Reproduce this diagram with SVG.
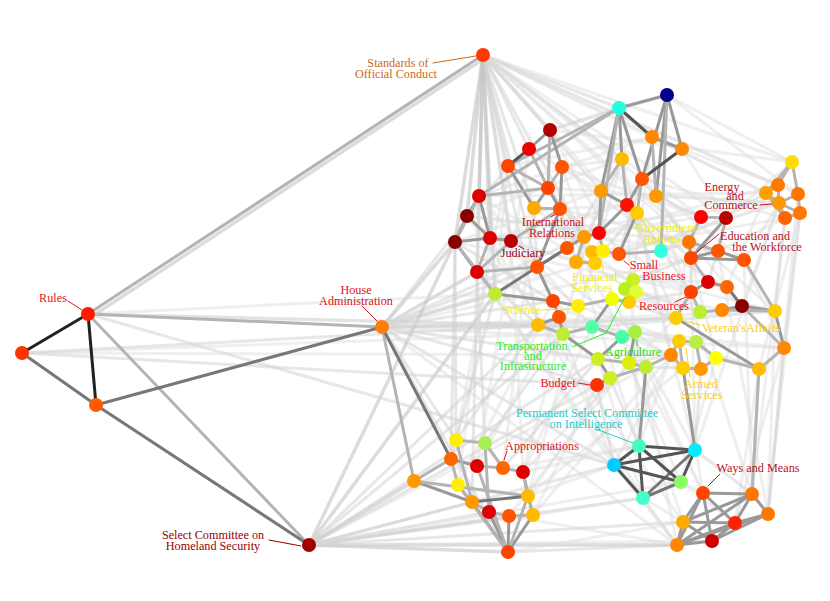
<svg xmlns="http://www.w3.org/2000/svg" width="830" height="601" viewBox="0 0 830 601">
<style>
line{stroke-linecap:round}
.k{stroke:#222;stroke-width:3}
.d1{stroke:#555;stroke-width:3}
.d2{stroke:#777;stroke-width:3}
.d3{stroke:#999;stroke-width:3}
.d4{stroke:#b4b4b4;stroke-width:3}
.l1{stroke:#c4c4c4;stroke-width:3.5;stroke-opacity:.6}
.l2{stroke:#d0d0d0;stroke-width:3;stroke-opacity:.5}
.l3{stroke:#dcdcdc;stroke-width:3;stroke-opacity:.45}
.t{font-family:"Liberation Serif","Times New Roman",serif;font-size:12.2px;text-anchor:middle}
.ld{stroke-width:1;fill:none}
circle{stroke:none}
</style>
<rect width="830" height="601" fill="#fff"/>
<g id="connectors">
<line class="l1" x1="483" y1="55" x2="479" y2="196"/>
<line class="l1" x1="483" y1="55" x2="467" y2="216"/>
<line class="l1" x1="483" y1="55" x2="455" y2="242"/>
<line class="l1" x1="483" y1="55" x2="490" y2="238"/>
<line class="l1" x1="483" y1="55" x2="477" y2="272"/>
<line class="l1" x1="483" y1="55" x2="495" y2="294"/>
<line class="l1" x1="483" y1="55" x2="511" y2="241"/>
<line class="l2" x1="483" y1="55" x2="537" y2="267"/>
<line class="l2" x1="483" y1="55" x2="538" y2="325"/>
<line class="l2" x1="483" y1="55" x2="550" y2="130"/>
<line class="l2" x1="483" y1="55" x2="529" y2="149"/>
<line class="l2" x1="483" y1="55" x2="508" y2="166"/>
<line class="l2" x1="483" y1="55" x2="534" y2="208"/>
<line class="l2" x1="483" y1="55" x2="619" y2="108"/>
<line class="l2" x1="483" y1="55" x2="622" y2="159"/>
<line class="l2" x1="483" y1="55" x2="601" y2="191"/>
<line class="l2" x1="483" y1="55" x2="584" y2="237"/>
<line class="l3" x1="483" y1="55" x2="792" y2="162"/>
<line class="l3" x1="483" y1="55" x2="766" y2="193"/>
<line class="l3" x1="483" y1="55" x2="778" y2="185"/>
<line class="l3" x1="483" y1="55" x2="701" y2="217"/>
<line class="l3" x1="483" y1="55" x2="689" y2="242"/>
<line class="l3" x1="483" y1="55" x2="661" y2="251"/>
<line class="l3" x1="483" y1="55" x2="775" y2="311"/>
<line class="l3" x1="483" y1="55" x2="682" y2="149"/>
<line class="l3" x1="483" y1="55" x2="726" y2="218"/>
<line class="l3" x1="483" y1="55" x2="798" y2="194"/>
<line class="l3" x1="483" y1="55" x2="744" y2="260"/>
<line class="l1" x1="382" y1="327" x2="455" y2="242"/>
<line class="l1" x1="382" y1="327" x2="477" y2="272"/>
<line class="l1" x1="382" y1="327" x2="495" y2="294"/>
<line class="l2" x1="382" y1="327" x2="537" y2="267"/>
<line class="l2" x1="382" y1="327" x2="553" y2="301"/>
<line class="l2" x1="382" y1="327" x2="538" y2="325"/>
<line class="l2" x1="382" y1="327" x2="592" y2="327"/>
<line class="l2" x1="382" y1="327" x2="676" y2="318"/>
<line class="l3" x1="382" y1="327" x2="775" y2="311"/>
<line class="l3" x1="382" y1="327" x2="691" y2="258"/>
<line class="l2" x1="382" y1="327" x2="597" y2="385"/>
<line class="l2" x1="382" y1="327" x2="614" y2="465"/>
<line class="l3" x1="382" y1="327" x2="677" y2="545"/>
<line class="l2" x1="382" y1="327" x2="456" y2="440"/>
<line class="l2" x1="382" y1="327" x2="508" y2="552"/>
<line class="l2" x1="382" y1="327" x2="584" y2="237"/>
<line class="l2" x1="382" y1="327" x2="508" y2="166"/>
<line class="l3" x1="382" y1="327" x2="779" y2="203"/>
<line class="l3" x1="382" y1="327" x2="784" y2="348"/>
<line class="l2" x1="382" y1="327" x2="598" y2="359"/>
<line class="l1" x1="309" y1="545" x2="414" y2="481"/>
<line class="l1" x1="309" y1="545" x2="508" y2="552"/>
<line class="l1" x1="309" y1="545" x2="677" y2="545"/>
<line class="l2" x1="309" y1="545" x2="472" y2="502"/>
<line class="l2" x1="309" y1="545" x2="489" y2="512"/>
<line class="l2" x1="309" y1="545" x2="614" y2="465"/>
<line class="l2" x1="309" y1="545" x2="643" y2="498"/>
<line class="l1" x1="309" y1="545" x2="495" y2="294"/>
<line class="l2" x1="309" y1="545" x2="563" y2="334"/>
<line class="l2" x1="309" y1="545" x2="683" y2="522"/>
<line class="l2" x1="309" y1="545" x2="538" y2="325"/>
<line class="l1" x1="309" y1="545" x2="455" y2="242"/>
<line class="l3" x1="309" y1="545" x2="671" y2="355"/>
<line class="l2" x1="309" y1="545" x2="598" y2="359"/>
<line class="l2" x1="309" y1="545" x2="509" y2="516"/>
<line class="l2" x1="309" y1="545" x2="533" y2="515"/>
<line class="l3" x1="309" y1="545" x2="712" y2="541"/>
<line class="l3" x1="309" y1="545" x2="681" y2="482"/>
<line class="l2" x1="309" y1="545" x2="597" y2="385"/>
<line class="l2" x1="88" y1="314" x2="614" y2="465"/>
<line class="l2" x1="88" y1="314" x2="538" y2="325"/>
<line class="l3" x1="88" y1="314" x2="592" y2="327"/>
<line class="l2" x1="22" y1="353" x2="597" y2="385"/>
<line class="l2" x1="22" y1="353" x2="676" y2="318"/>
<line class="l3" x1="22" y1="353" x2="563" y2="334"/>
<line class="l3" x1="22" y1="353" x2="671" y2="355"/>
<line class="l3" x1="88" y1="314" x2="495" y2="294"/>
<line class="l2" x1="479" y1="196" x2="619" y2="108"/>
<line class="l3" x1="467" y1="216" x2="622" y2="159"/>
<line class="l3" x1="455" y1="242" x2="601" y2="191"/>
<line class="l3" x1="490" y1="238" x2="627" y2="205"/>
<line class="l3" x1="479" y1="196" x2="652" y2="137"/>
<line class="l3" x1="467" y1="216" x2="599" y2="233"/>
<line class="l2" x1="455" y1="242" x2="553" y2="301"/>
<line class="l2" x1="490" y1="238" x2="584" y2="237"/>
<line class="l3" x1="511" y1="241" x2="576" y2="262"/>
<line class="l2" x1="477" y1="272" x2="538" y2="325"/>
<line class="l3" x1="467" y1="216" x2="578" y2="306"/>
<line class="l3" x1="479" y1="196" x2="592" y2="327"/>
<line class="l3" x1="479" y1="196" x2="676" y2="318"/>
<line class="l3" x1="455" y1="242" x2="691" y2="292"/>
<line class="l3" x1="490" y1="238" x2="775" y2="311"/>
<line class="l3" x1="477" y1="272" x2="671" y2="355"/>
<line class="l3" x1="511" y1="241" x2="683" y2="368"/>
<line class="l2" x1="455" y1="242" x2="456" y2="440"/>
<line class="l2" x1="455" y1="242" x2="451" y2="459"/>
<line class="l2" x1="477" y1="272" x2="485" y2="443"/>
<line class="l3" x1="490" y1="238" x2="458" y2="485"/>
<line class="l2" x1="477" y1="272" x2="472" y2="502"/>
<line class="l3" x1="511" y1="241" x2="523" y2="472"/>
<line class="l3" x1="477" y1="272" x2="614" y2="465"/>
<line class="l3" x1="455" y1="242" x2="677" y2="545"/>
<line class="l3" x1="490" y1="238" x2="643" y2="498"/>
<line class="l3" x1="467" y1="216" x2="683" y2="522"/>
<line class="l3" x1="479" y1="196" x2="766" y2="193"/>
<line class="l3" x1="467" y1="216" x2="689" y2="242"/>
<line class="l3" x1="490" y1="238" x2="779" y2="203"/>
<line class="l2" x1="550" y1="130" x2="619" y2="108"/>
<line class="l3" x1="562" y1="167" x2="622" y2="159"/>
<line class="l3" x1="529" y1="149" x2="601" y2="191"/>
<line class="l3" x1="560" y1="209" x2="627" y2="205"/>
<line class="l3" x1="550" y1="130" x2="667" y2="95"/>
<line class="l3" x1="508" y1="166" x2="652" y2="137"/>
<line class="l2" x1="548" y1="188" x2="584" y2="237"/>
<line class="l2" x1="534" y1="208" x2="537" y2="267"/>
<line class="l2" x1="560" y1="209" x2="567" y2="248"/>
<line class="l3" x1="562" y1="167" x2="592" y2="252"/>
<line class="l3" x1="508" y1="166" x2="495" y2="294"/>
<line class="l3" x1="550" y1="130" x2="619" y2="254"/>
<line class="l3" x1="550" y1="130" x2="792" y2="162"/>
<line class="l3" x1="562" y1="167" x2="701" y2="217"/>
<line class="l3" x1="560" y1="209" x2="689" y2="242"/>
<line class="l3" x1="548" y1="188" x2="779" y2="203"/>
<line class="l3" x1="534" y1="208" x2="676" y2="318"/>
<line class="l3" x1="560" y1="209" x2="691" y2="292"/>
<line class="l3" x1="562" y1="167" x2="742" y2="306"/>
<line class="l3" x1="534" y1="208" x2="503" y2="468"/>
<line class="l3" x1="508" y1="166" x2="456" y2="440"/>
<line class="l3" x1="560" y1="209" x2="639" y2="446"/>
<line class="l3" x1="548" y1="188" x2="703" y2="493"/>
<line class="l3" x1="529" y1="149" x2="477" y2="466"/>
<line class="l3" x1="667" y1="95" x2="792" y2="162"/>
<line class="l3" x1="682" y1="149" x2="778" y2="185"/>
<line class="l3" x1="652" y1="137" x2="766" y2="193"/>
<line class="l3" x1="656" y1="196" x2="779" y2="203"/>
<line class="l3" x1="642" y1="179" x2="785" y2="218"/>
<line class="l3" x1="667" y1="95" x2="798" y2="194"/>
<line class="l2" x1="656" y1="196" x2="701" y2="217"/>
<line class="l2" x1="642" y1="179" x2="689" y2="242"/>
<line class="l2" x1="637" y1="213" x2="691" y2="258"/>
<line class="l3" x1="682" y1="149" x2="726" y2="218"/>
<line class="l2" x1="637" y1="213" x2="691" y2="292"/>
<line class="l3" x1="627" y1="205" x2="676" y2="318"/>
<line class="l3" x1="656" y1="196" x2="742" y2="306"/>
<line class="l3" x1="622" y1="159" x2="671" y2="355"/>
<line class="l2" x1="622" y1="159" x2="576" y2="262"/>
<line class="l2" x1="601" y1="191" x2="567" y2="248"/>
<line class="l2" x1="637" y1="213" x2="603" y2="251"/>
<line class="l2" x1="642" y1="179" x2="619" y2="254"/>
<line class="l3" x1="652" y1="137" x2="633" y2="280"/>
<line class="l3" x1="601" y1="191" x2="523" y2="472"/>
<line class="l3" x1="627" y1="205" x2="639" y2="446"/>
<line class="l3" x1="656" y1="196" x2="752" y2="494"/>
<line class="l3" x1="622" y1="159" x2="528" y2="496"/>
<line class="l3" x1="637" y1="213" x2="695" y2="450"/>
<line class="l3" x1="661" y1="251" x2="766" y2="193"/>
<line class="l3" x1="619" y1="254" x2="779" y2="203"/>
<line class="l3" x1="603" y1="251" x2="785" y2="218"/>
<line class="l3" x1="599" y1="233" x2="778" y2="185"/>
<line class="l2" x1="661" y1="251" x2="689" y2="242"/>
<line class="l2" x1="633" y1="280" x2="691" y2="258"/>
<line class="l3" x1="599" y1="233" x2="701" y2="217"/>
<line class="l3" x1="584" y1="237" x2="718" y2="251"/>
<line class="l2" x1="629" y1="302" x2="691" y2="292"/>
<line class="l2" x1="636" y1="292" x2="700" y2="312"/>
<line class="l2" x1="612" y1="299" x2="676" y2="318"/>
<line class="l2" x1="635" y1="332" x2="679" y2="341"/>
<line class="l2" x1="629" y1="363" x2="671" y2="355"/>
<line class="l2" x1="646" y1="367" x2="683" y2="368"/>
<line class="l3" x1="633" y1="280" x2="708" y2="282"/>
<line class="l3" x1="661" y1="251" x2="727" y2="287"/>
<line class="l3" x1="622" y1="337" x2="696" y2="342"/>
<line class="l3" x1="625" y1="289" x2="722" y2="310"/>
<line class="l3" x1="578" y1="306" x2="759" y2="369"/>
<line class="l2" x1="592" y1="327" x2="775" y2="311"/>
<line class="l3" x1="592" y1="327" x2="784" y2="348"/>
<line class="l2" x1="538" y1="325" x2="456" y2="440"/>
<line class="l2" x1="563" y1="334" x2="485" y2="443"/>
<line class="l2" x1="598" y1="359" x2="503" y2="468"/>
<line class="l3" x1="610" y1="378" x2="528" y2="496"/>
<line class="l3" x1="597" y1="385" x2="533" y2="515"/>
<line class="l2" x1="495" y1="294" x2="451" y2="459"/>
<line class="l3" x1="559" y1="317" x2="477" y2="466"/>
<line class="l3" x1="553" y1="301" x2="458" y2="485"/>
<line class="l3" x1="592" y1="327" x2="523" y2="472"/>
<line class="l3" x1="629" y1="363" x2="509" y2="516"/>
<line class="l2" x1="610" y1="378" x2="639" y2="446"/>
<line class="l2" x1="597" y1="385" x2="614" y2="465"/>
<line class="l3" x1="629" y1="363" x2="681" y2="482"/>
<line class="l3" x1="598" y1="359" x2="643" y2="498"/>
<line class="l3" x1="646" y1="367" x2="703" y2="493"/>
<line class="l3" x1="622" y1="337" x2="683" y2="522"/>
<line class="l3" x1="635" y1="332" x2="677" y2="545"/>
<line class="l3" x1="563" y1="334" x2="614" y2="465"/>
<line class="l3" x1="612" y1="299" x2="695" y2="450"/>
<line class="l3" x1="766" y1="193" x2="726" y2="218"/>
<line class="l3" x1="779" y1="203" x2="744" y2="260"/>
<line class="l3" x1="785" y1="218" x2="718" y2="251"/>
<line class="l3" x1="792" y1="162" x2="726" y2="218"/>
<line class="l2" x1="785" y1="218" x2="775" y2="311"/>
<line class="l2" x1="800" y1="213" x2="784" y2="348"/>
<line class="l3" x1="779" y1="203" x2="742" y2="306"/>
<line class="l3" x1="766" y1="193" x2="727" y2="287"/>
<line class="l3" x1="800" y1="213" x2="759" y2="369"/>
<line class="l3" x1="800" y1="213" x2="768" y2="514"/>
<line class="l3" x1="785" y1="218" x2="752" y2="494"/>
<line class="l3" x1="798" y1="194" x2="768" y2="514"/>
<line class="l3" x1="779" y1="203" x2="695" y2="450"/>
<line class="l2" x1="691" y1="258" x2="691" y2="292"/>
<line class="l2" x1="718" y1="251" x2="708" y2="282"/>
<line class="l2" x1="744" y1="260" x2="775" y2="311"/>
<line class="l3" x1="689" y1="242" x2="676" y2="318"/>
<line class="l3" x1="744" y1="260" x2="784" y2="348"/>
<line class="l3" x1="691" y1="258" x2="716" y2="358"/>
<line class="l3" x1="744" y1="260" x2="752" y2="494"/>
<line class="l3" x1="718" y1="251" x2="768" y2="514"/>
<line class="l3" x1="691" y1="258" x2="695" y2="450"/>
<line class="l2" x1="784" y1="348" x2="768" y2="514"/>
<line class="l2" x1="759" y1="369" x2="752" y2="494"/>
<line class="l3" x1="716" y1="358" x2="681" y2="482"/>
<line class="l2" x1="701" y1="369" x2="695" y2="450"/>
<line class="l3" x1="683" y1="368" x2="703" y2="493"/>
<line class="l3" x1="671" y1="355" x2="639" y2="446"/>
<line class="l3" x1="679" y1="341" x2="614" y2="465"/>
<line class="l3" x1="784" y1="348" x2="735" y2="523"/>
<line class="l3" x1="759" y1="369" x2="735" y2="523"/>
<line class="l3" x1="775" y1="311" x2="768" y2="514"/>
<line class="l3" x1="671" y1="355" x2="533" y2="515"/>
<line class="l3" x1="683" y1="368" x2="528" y2="496"/>
<line class="l3" x1="676" y1="318" x2="523" y2="472"/>
<line class="l2" x1="508" y1="552" x2="677" y2="545"/>
<line class="l3" x1="528" y1="496" x2="614" y2="465"/>
<line class="l3" x1="523" y1="472" x2="639" y2="446"/>
<line class="l3" x1="533" y1="515" x2="643" y2="498"/>
<line class="l3" x1="508" y1="552" x2="683" y2="522"/>
<line class="l3" x1="509" y1="516" x2="677" y2="545"/>
<line class="l3" x1="503" y1="468" x2="639" y2="446"/>
<line class="l3" x1="681" y1="482" x2="703" y2="493"/>
<line class="l3" x1="643" y1="498" x2="683" y2="522"/>
<line class="l2" x1="695" y1="450" x2="752" y2="494"/>
<line class="l3" x1="681" y1="482" x2="735" y2="523"/>
<line class="l3" x1="643" y1="498" x2="677" y2="545"/>
<line class="l3" x1="614" y1="465" x2="677" y2="545"/>
<line class="d4" x1="88" y1="314" x2="382" y2="327"/>
<line class="d4" x1="88" y1="314" x2="309" y2="545"/>
<line class="d4" x1="88" y1="314" x2="483" y2="55"/>
<line class="l1" x1="91" y1="317" x2="485" y2="58"/>
<line class="d4" x1="382" y1="327" x2="414" y2="481"/>
<line class="d2" x1="382" y1="327" x2="451" y2="459"/>
<line class="d2" x1="22" y1="353" x2="96" y2="405"/>
<line class="d2" x1="96" y1="405" x2="382" y2="327"/>
<line class="d2" x1="96" y1="405" x2="309" y2="545"/>
<line class="k" x1="88" y1="314" x2="22" y2="353"/>
<line class="k" x1="88" y1="314" x2="96" y2="405"/>
<line class="d3" x1="414" y1="481" x2="472" y2="502"/>
<line class="d3" x1="451" y1="459" x2="477" y2="466"/>
<line class="d4" x1="451" y1="459" x2="458" y2="485"/>
<line class="d4" x1="456" y1="440" x2="485" y2="443"/>
<line class="d4" x1="477" y1="466" x2="503" y2="468"/>
<line class="d4" x1="503" y1="468" x2="523" y2="472"/>
<line class="d4" x1="485" y1="443" x2="503" y2="468"/>
<line class="d3" x1="523" y1="472" x2="528" y2="496"/>
<line class="d3" x1="528" y1="496" x2="533" y2="515"/>
<line class="d4" x1="458" y1="485" x2="472" y2="502"/>
<line class="d4" x1="472" y1="502" x2="489" y2="512"/>
<line class="d4" x1="489" y1="512" x2="509" y2="516"/>
<line class="d4" x1="509" y1="516" x2="533" y2="515"/>
<line class="d3" x1="508" y1="552" x2="472" y2="502"/>
<line class="d3" x1="508" y1="552" x2="489" y2="512"/>
<line class="d3" x1="508" y1="552" x2="509" y2="516"/>
<line class="d3" x1="508" y1="552" x2="533" y2="515"/>
<line class="d4" x1="508" y1="552" x2="528" y2="496"/>
<line class="d4" x1="508" y1="552" x2="477" y2="466"/>
<line class="d4" x1="508" y1="552" x2="458" y2="485"/>
<line class="d4" x1="414" y1="481" x2="451" y2="459"/>
<line class="d4" x1="414" y1="481" x2="528" y2="496"/>
<line class="d4" x1="485" y1="443" x2="489" y2="512"/>
<line class="d4" x1="456" y1="440" x2="472" y2="502"/>
<line class="d4" x1="523" y1="472" x2="533" y2="515"/>
<line class="d2" x1="472" y1="502" x2="528" y2="496"/>
<line class="d3" x1="619" y1="108" x2="667" y2="95"/>
<line class="d3" x1="667" y1="95" x2="682" y2="149"/>
<line class="d3" x1="652" y1="137" x2="682" y2="149"/>
<line class="d3" x1="667" y1="95" x2="642" y2="179"/>
<line class="d3" x1="667" y1="95" x2="656" y2="196"/>
<line class="d3" x1="619" y1="108" x2="622" y2="159"/>
<line class="d3" x1="619" y1="108" x2="601" y2="191"/>
<line class="d3" x1="619" y1="108" x2="642" y2="179"/>
<line class="d4" x1="622" y1="159" x2="601" y2="191"/>
<line class="d4" x1="652" y1="137" x2="656" y2="196"/>
<line class="d3" x1="642" y1="179" x2="627" y2="205"/>
<line class="d4" x1="622" y1="159" x2="627" y2="205"/>
<line class="d3" x1="601" y1="191" x2="627" y2="205"/>
<line class="d4" x1="642" y1="179" x2="637" y2="213"/>
<line class="d4" x1="619" y1="108" x2="599" y2="233"/>
<line class="d4" x1="667" y1="95" x2="661" y2="251"/>
<line class="d4" x1="619" y1="108" x2="508" y2="166"/>
<line class="d4" x1="619" y1="108" x2="479" y2="196"/>
<line class="d1" x1="619" y1="108" x2="652" y2="137"/>
<line class="d1" x1="682" y1="149" x2="642" y2="179"/>
<line class="d3" x1="550" y1="130" x2="529" y2="149"/>
<line class="d3" x1="550" y1="130" x2="562" y2="167"/>
<line class="d3" x1="508" y1="166" x2="534" y2="208"/>
<line class="d4" x1="562" y1="167" x2="548" y2="188"/>
<line class="d3" x1="562" y1="167" x2="560" y2="209"/>
<line class="d3" x1="548" y1="188" x2="534" y2="208"/>
<line class="d3" x1="548" y1="188" x2="560" y2="209"/>
<line class="d4" x1="534" y1="208" x2="560" y2="209"/>
<line class="d4" x1="529" y1="149" x2="548" y2="188"/>
<line class="d4" x1="508" y1="166" x2="548" y2="188"/>
<line class="d4" x1="550" y1="130" x2="548" y2="188"/>
<line class="d1" x1="529" y1="149" x2="508" y2="166"/>
<line class="d3" x1="479" y1="196" x2="467" y2="216"/>
<line class="d3" x1="479" y1="196" x2="490" y2="238"/>
<line class="d3" x1="467" y1="216" x2="455" y2="242"/>
<line class="d3" x1="467" y1="216" x2="490" y2="238"/>
<line class="d3" x1="455" y1="242" x2="490" y2="238"/>
<line class="d3" x1="455" y1="242" x2="477" y2="272"/>
<line class="d3" x1="490" y1="238" x2="511" y2="241"/>
<line class="d4" x1="490" y1="238" x2="477" y2="272"/>
<line class="d4" x1="511" y1="241" x2="477" y2="272"/>
<line class="d4" x1="479" y1="196" x2="455" y2="242"/>
<line class="d4" x1="479" y1="196" x2="548" y2="188"/>
<line class="d4" x1="511" y1="241" x2="560" y2="209"/>
<line class="d4" x1="477" y1="272" x2="537" y2="267"/>
<line class="d4" x1="455" y1="242" x2="495" y2="294"/>
<line class="d3" x1="537" y1="267" x2="567" y2="248"/>
<line class="d3" x1="537" y1="267" x2="560" y2="209"/>
<line class="d3" x1="567" y1="248" x2="584" y2="237"/>
<line class="d3" x1="584" y1="237" x2="599" y2="233"/>
<line class="d3" x1="599" y1="233" x2="601" y2="191"/>
<line class="d3" x1="599" y1="233" x2="627" y2="205"/>
<line class="d4" x1="584" y1="237" x2="576" y2="262"/>
<line class="d4" x1="592" y1="252" x2="603" y2="251"/>
<line class="d4" x1="576" y1="262" x2="595" y2="263"/>
<line class="d4" x1="619" y1="254" x2="603" y2="251"/>
<line class="d3" x1="619" y1="254" x2="637" y2="213"/>
<line class="d4" x1="619" y1="254" x2="661" y2="251"/>
<line class="d3" x1="553" y1="301" x2="559" y2="317"/>
<line class="d3" x1="559" y1="317" x2="538" y2="325"/>
<line class="d3" x1="553" y1="301" x2="578" y2="306"/>
<line class="d3" x1="559" y1="317" x2="563" y2="334"/>
<line class="d4" x1="538" y1="325" x2="563" y2="334"/>
<line class="d4" x1="563" y1="334" x2="592" y2="327"/>
<line class="d3" x1="592" y1="327" x2="612" y2="299"/>
<line class="d4" x1="612" y1="299" x2="629" y2="302"/>
<line class="d4" x1="633" y1="280" x2="625" y2="289"/>
<line class="d4" x1="625" y1="289" x2="636" y2="292"/>
<line class="d4" x1="636" y1="292" x2="629" y2="302"/>
<line class="d4" x1="592" y1="327" x2="622" y2="337"/>
<line class="d4" x1="622" y1="337" x2="635" y2="332"/>
<line class="d3" x1="598" y1="359" x2="610" y2="378"/>
<line class="d3" x1="610" y1="378" x2="597" y2="385"/>
<line class="d4" x1="629" y1="363" x2="646" y2="367"/>
<line class="d3" x1="635" y1="332" x2="629" y2="363"/>
<line class="d3" x1="622" y1="337" x2="598" y2="359"/>
<line class="d4" x1="578" y1="306" x2="612" y2="299"/>
<line class="d3" x1="553" y1="301" x2="537" y2="267"/>
<line class="d3" x1="495" y1="294" x2="553" y2="301"/>
<line class="d3" x1="563" y1="334" x2="598" y2="359"/>
<line class="d4" x1="598" y1="359" x2="629" y2="363"/>
<line class="d4" x1="646" y1="367" x2="610" y2="378"/>
<line class="d4" x1="603" y1="251" x2="599" y2="233"/>
<line class="d2" x1="495" y1="294" x2="567" y2="248"/>
<line class="d4" x1="701" y1="217" x2="726" y2="218"/>
<line class="d3" x1="689" y1="242" x2="691" y2="258"/>
<line class="d3" x1="691" y1="258" x2="718" y2="251"/>
<line class="d3" x1="718" y1="251" x2="744" y2="260"/>
<line class="d3" x1="691" y1="258" x2="744" y2="260"/>
<line class="d4" x1="689" y1="242" x2="718" y2="251"/>
<line class="d4" x1="701" y1="217" x2="689" y2="242"/>
<line class="d4" x1="726" y1="218" x2="718" y2="251"/>
<line class="d3" x1="726" y1="218" x2="691" y2="258"/>
<line class="d4" x1="792" y1="162" x2="778" y2="185"/>
<line class="d4" x1="792" y1="162" x2="798" y2="194"/>
<line class="d4" x1="792" y1="162" x2="766" y2="193"/>
<line class="d4" x1="778" y1="185" x2="766" y2="193"/>
<line class="d4" x1="778" y1="185" x2="779" y2="203"/>
<line class="d4" x1="766" y1="193" x2="779" y2="203"/>
<line class="d4" x1="798" y1="194" x2="800" y2="213"/>
<line class="d4" x1="779" y1="203" x2="785" y2="218"/>
<line class="d4" x1="785" y1="218" x2="800" y2="213"/>
<line class="d4" x1="798" y1="194" x2="779" y2="203"/>
<line class="d4" x1="779" y1="203" x2="800" y2="213"/>
<line class="d4" x1="766" y1="193" x2="785" y2="218"/>
<line class="d3" x1="708" y1="282" x2="727" y2="287"/>
<line class="d3" x1="708" y1="282" x2="691" y2="292"/>
<line class="d4" x1="691" y1="292" x2="700" y2="312"/>
<line class="d4" x1="700" y1="312" x2="722" y2="310"/>
<line class="d3" x1="722" y1="310" x2="742" y2="306"/>
<line class="d3" x1="742" y1="306" x2="775" y2="311"/>
<line class="d4" x1="691" y1="292" x2="676" y2="318"/>
<line class="d3" x1="676" y1="318" x2="759" y2="369"/>
<line class="d4" x1="679" y1="341" x2="696" y2="342"/>
<line class="d4" x1="679" y1="341" x2="683" y2="368"/>
<line class="d4" x1="696" y1="342" x2="716" y2="358"/>
<line class="d4" x1="671" y1="355" x2="683" y2="368"/>
<line class="d4" x1="683" y1="368" x2="701" y2="369"/>
<line class="d4" x1="716" y1="358" x2="701" y2="369"/>
<line class="d4" x1="784" y1="348" x2="759" y2="369"/>
<line class="d3" x1="775" y1="311" x2="784" y2="348"/>
<line class="d4" x1="742" y1="306" x2="784" y2="348"/>
<line class="d4" x1="775" y1="311" x2="744" y2="260"/>
<line class="d4" x1="716" y1="358" x2="759" y2="369"/>
<line class="d4" x1="696" y1="342" x2="701" y2="369"/>
<line class="d4" x1="708" y1="282" x2="691" y2="258"/>
<line class="d4" x1="722" y1="310" x2="775" y2="311"/>
<line class="d4" x1="679" y1="341" x2="671" y2="355"/>
<line class="d4" x1="646" y1="367" x2="671" y2="355"/>
<line class="d3" x1="646" y1="367" x2="639" y2="446"/>
<line class="d3" x1="683" y1="368" x2="695" y2="450"/>
<line class="d4" x1="759" y1="369" x2="752" y2="494"/>
<line class="d2" x1="727" y1="287" x2="742" y2="306"/>
<line class="d3" x1="703" y1="493" x2="752" y2="494"/>
<line class="d3" x1="703" y1="493" x2="683" y2="522"/>
<line class="d3" x1="703" y1="493" x2="735" y2="523"/>
<line class="d3" x1="703" y1="493" x2="712" y2="541"/>
<line class="d3" x1="703" y1="493" x2="677" y2="545"/>
<line class="d3" x1="752" y1="494" x2="768" y2="514"/>
<line class="d3" x1="752" y1="494" x2="735" y2="523"/>
<line class="d3" x1="752" y1="494" x2="677" y2="545"/>
<line class="d3" x1="752" y1="494" x2="683" y2="522"/>
<line class="d3" x1="768" y1="514" x2="735" y2="523"/>
<line class="d3" x1="768" y1="514" x2="712" y2="541"/>
<line class="d3" x1="768" y1="514" x2="677" y2="545"/>
<line class="d3" x1="683" y1="522" x2="735" y2="523"/>
<line class="d3" x1="683" y1="522" x2="712" y2="541"/>
<line class="d3" x1="683" y1="522" x2="677" y2="545"/>
<line class="d3" x1="735" y1="523" x2="712" y2="541"/>
<line class="d3" x1="735" y1="523" x2="677" y2="545"/>
<line class="d3" x1="712" y1="541" x2="677" y2="545"/>
<line class="d2" x1="681" y1="482" x2="643" y2="498"/>
<line class="d2" x1="695" y1="450" x2="643" y2="498"/>
<line class="d1" x1="639" y1="446" x2="695" y2="450"/>
<line class="d1" x1="639" y1="446" x2="614" y2="465"/>
<line class="d1" x1="639" y1="446" x2="681" y2="482"/>
<line class="d1" x1="639" y1="446" x2="643" y2="498"/>
<line class="d1" x1="695" y1="450" x2="614" y2="465"/>
<line class="d1" x1="695" y1="450" x2="681" y2="482"/>
<line class="d1" x1="614" y1="465" x2="681" y2="482"/>
<line class="d1" x1="614" y1="465" x2="643" y2="498"/>
</g>
<g id="nodes">
<g id="rules"><circle cx="88" cy="314" r="7" fill="#ff1a00"/>
<text class="t" x="53" y="302" fill="#ee1111">Rules</text><line class="ld" x1="68" y1="301" x2="82" y2="310" stroke="#ee1111"/></g>
<g id="rules-2"><circle cx="22" cy="353" r="7" fill="#ff3300"/></g>
<g id="rules-3"><circle cx="96" cy="405" r="7" fill="#ff5a00"/></g>
<g id="house-administration"><circle cx="382" cy="327" r="7" fill="#ff7f00"/>
<text class="t" x="356" y="294" fill="#dd1111">House</text><text class="t" x="356" y="305" fill="#dd1111">Administration</text>
<line class="ld" x1="362" y1="306" x2="377" y2="321" stroke="#dd1111"/></g>
<g id="homeland-security"><circle cx="309" cy="545" r="7" fill="#a00000"/>
<text class="t" x="213" y="539" fill="#990000">Select Committee on</text><text class="t" x="213" y="550" fill="#990000">Homeland Security</text>
<line class="ld" x1="269" y1="540" x2="301" y2="546" stroke="#990000"/></g>
<g id="standards-official-conduct"><circle cx="483" cy="55" r="7" fill="#ff3a00"/>
<text class="t" x="398" y="67" fill="#cc6a1a">Standards of</text><text class="t" x="396" y="78" fill="#cc6a1a">Official Conduct</text>
<line class="ld" x1="433" y1="63" x2="476" y2="56" stroke="#cc6a1a"/></g>

<g id="a1"><circle cx="550" cy="130" r="7" fill="#b00000"/></g>
<g id="a2"><circle cx="529" cy="149" r="7" fill="#ee0000"/></g>
<g id="a3"><circle cx="508" cy="166" r="7" fill="#ff4400"/></g>
<g id="a4"><circle cx="562" cy="167" r="7" fill="#ff5500"/></g>
<g id="a5"><circle cx="548" cy="188" r="7" fill="#ff4400"/></g>
<g id="a6"><circle cx="534" cy="208" r="7" fill="#ffaa00"/></g>
<g id="international-relations"><circle cx="560" cy="209" r="7" fill="#ff5500"/>
<text class="t" x="553" y="226" fill="#cc1122">International</text><text class="t" x="552" y="237" fill="#cc1122">Relations</text>
<line class="ld" x1="551" y1="217" x2="556" y2="214" stroke="#cc1122"/></g>
<g id="j1"><circle cx="479" cy="196" r="7" fill="#dd0000"/></g>
<g id="j2"><circle cx="467" cy="216" r="7" fill="#880000"/></g>
<g id="j3"><circle cx="455" cy="242" r="7" fill="#880000"/></g>
<g id="j4"><circle cx="490" cy="238" r="7" fill="#dd0000"/></g>
<g id="judiciary"><circle cx="511" cy="241" r="7" fill="#bb0000"/>
<text class="t" x="523" y="257" fill="#990011">Judiciary</text>
<line class="ld" x1="519" y1="246" x2="524" y2="249" stroke="#990011"/></g>
<g id="j6"><circle cx="477" cy="272" r="7" fill="#dd0000"/></g>

<g id="g1"><circle cx="619" cy="108" r="7" fill="#22ffdd"/></g>
<g id="g2"><circle cx="667" cy="95" r="7" fill="#000088"/></g>
<g id="g3"><circle cx="652" cy="137" r="7" fill="#ff8800"/></g>
<g id="g4"><circle cx="682" cy="149" r="7" fill="#ff8800"/></g>
<g id="g5"><circle cx="622" cy="159" r="7" fill="#ffbb00"/></g>
<g id="g6"><circle cx="642" cy="179" r="7" fill="#ff5500"/></g>
<g id="g7"><circle cx="656" cy="196" r="7" fill="#ff9900"/></g>
<g id="g8"><circle cx="601" cy="191" r="7" fill="#ff9900"/></g>
<g id="g9"><circle cx="627" cy="205" r="7" fill="#ff1100"/></g>
<g id="government-reform"><circle cx="637" cy="213" r="7" fill="#ffcc00"/>
<text class="t" x="666" y="232" fill="#eeee00">Government</text><text class="t" x="662" y="243" fill="#eeee00">Reform</text>
<line class="ld" x1="645" y1="223" x2="640" y2="219" stroke="#eeee00"/></g>

<g id="c1"><circle cx="584" cy="237" r="7" fill="#ff9900"/></g>
<g id="c2"><circle cx="599" cy="233" r="7" fill="#ff0000"/></g>
<g id="c3"><circle cx="567" cy="248" r="7" fill="#ff5500"/></g>
<g id="c4"><circle cx="537" cy="267" r="7" fill="#ff5500"/></g>
<g id="c5"><circle cx="576" cy="262" r="7" fill="#ffaa00"/></g>
<g id="c6"><circle cx="592" cy="252" r="7" fill="#ffbb00"/></g>
<g id="c7"><circle cx="603" cy="251" r="7" fill="#ffee00"/></g>
<g id="financial-services"><circle cx="595" cy="263" r="7" fill="#ffcc00"/>
<text class="t" x="595" y="281" fill="#eeee11">Financial</text><text class="t" x="592" y="292" fill="#eeee11">Services</text>
<line class="ld" x1="603" y1="264" x2="603" y2="272" stroke="#eeee11"/></g>
<g id="small-business"><circle cx="619" cy="254" r="7" fill="#ff5500"/>
<text class="t" x="644" y="269" fill="#ee1122">Small</text><text class="t" x="664" y="280" fill="#ee1122">Business</text>
<line class="ld" x1="624" y1="261" x2="629" y2="265" stroke="#ee1122"/></g>
<g id="c10"><circle cx="661" cy="251" r="7" fill="#33ffdd"/></g>
<g id="c11"><circle cx="495" cy="294" r="7" fill="#bbee33"/></g>
<g id="c12"><circle cx="553" cy="301" r="7" fill="#ff4400"/></g>
<g id="science"><circle cx="578" cy="306" r="7" fill="#ffee00"/>
<text class="t" x="522" y="314" fill="#eeee11">Science</text>
<line class="ld" x1="542" y1="310" x2="571" y2="309" stroke="#eeee11"/></g>
<g id="c14"><circle cx="559" cy="317" r="7" fill="#ff5500"/></g>
<g id="c15"><circle cx="538" cy="325" r="7" fill="#ffbb00"/></g>
<g id="c16"><circle cx="563" cy="334" r="7" fill="#bbee33"/></g>
<g id="c17"><circle cx="592" cy="327" r="7" fill="#55ffaa"/></g>
<g id="c18"><circle cx="612" cy="299" r="7" fill="#eeff00"/></g>
<g id="c19"><circle cx="633" cy="280" r="7" fill="#ccee22"/></g>
<g id="c20"><circle cx="625" cy="289" r="7" fill="#bbee22"/></g>
<g id="c21"><circle cx="636" cy="292" r="7" fill="#ddff33"/></g>
<g id="transportation-infrastructure"><circle cx="629" cy="302" r="7" fill="#ffcc00"/>
<text class="t" x="532" y="350" fill="#22ee22">Transportation</text><text class="t" x="533" y="360" fill="#22ee22">and</text><text class="t" x="533" y="370" fill="#22ee22">Infrastructure</text>
<polyline class="ld" points="572,347 606,333 625,297" stroke="#22ee22"/></g>
<g id="c23"><circle cx="622" cy="337" r="7" fill="#44ffaa"/></g>
<g id="agriculture"><circle cx="635" cy="332" r="7" fill="#aaee44"/>
<text class="t" x="633" y="356" fill="#22dd22">Agriculture</text>
<line class="ld" x1="637" y1="340" x2="637" y2="346" stroke="#22dd22"/></g>
<g id="c25"><circle cx="598" cy="359" r="7" fill="#ccee22"/></g>
<g id="c26"><circle cx="629" cy="363" r="7" fill="#ddee00"/></g>
<g id="c27"><circle cx="646" cy="367" r="7" fill="#bbee33"/></g>
<g id="c28"><circle cx="610" cy="378" r="7" fill="#ccee22"/></g>
<g id="budget"><circle cx="597" cy="385" r="7" fill="#ff3300"/>
<text class="t" x="558" y="387" fill="#ee1122">Budget</text>
<line class="ld" x1="578" y1="383" x2="590" y2="385" stroke="#ee1122"/></g>

<g id="e1"><circle cx="792" cy="162" r="7" fill="#ffdd00"/></g>
<g id="e2"><circle cx="778" cy="185" r="7" fill="#ff7700"/></g>
<g id="e3"><circle cx="766" cy="193" r="7" fill="#ffa000"/></g>
<g id="e4"><circle cx="798" cy="194" r="7" fill="#ff7700"/></g>
<g id="energy-commerce"><circle cx="779" cy="203" r="7" fill="#ff9900"/>
<text class="t" x="722" y="191" fill="#bb1122">Energy</text><text class="t" x="735" y="200" fill="#bb1122">and</text><text class="t" x="731" y="209" fill="#bb1122">Commerce</text>
<line class="ld" x1="760" y1="205" x2="772" y2="204" stroke="#bb1122"/></g>
<g id="e6"><circle cx="785" cy="218" r="7" fill="#ff6600"/></g>
<g id="e7"><circle cx="800" cy="213" r="7" fill="#ff7700"/></g>

<g id="w1"><circle cx="701" cy="217" r="7" fill="#ff0000"/></g>
<g id="w2"><circle cx="726" cy="218" r="7" fill="#bb0000"/></g>
<g id="w3"><circle cx="689" cy="242" r="7" fill="#ff7700"/></g>
<g id="education-workforce"><circle cx="691" cy="258" r="7" fill="#ff4400"/>
<text class="t" x="755" y="240" fill="#bb1122">Education and</text><text class="t" x="767" y="251" fill="#bb1122">the Workforce</text>
<line class="ld" x1="719" y1="234" x2="697" y2="252" stroke="#bb1122"/></g>
<g id="w5"><circle cx="718" cy="251" r="7" fill="#ff5500"/></g>
<g id="w6"><circle cx="744" cy="260" r="7" fill="#ff5500"/></g>

<g id="r1"><circle cx="708" cy="282" r="7" fill="#dd0000"/></g>
<g id="r2"><circle cx="727" cy="287" r="7" fill="#ff6600"/></g>
<g id="resources"><circle cx="691" cy="292" r="7" fill="#ff4400"/>
<text class="t" x="664" y="310" fill="#ee1122">Resources</text>
<line class="ld" x1="675" y1="302" x2="686" y2="297" stroke="#ee1122"/></g>
<g id="r4"><circle cx="700" cy="312" r="7" fill="#bbee33"/></g>
<g id="r5"><circle cx="722" cy="310" r="7" fill="#ff8800"/></g>
<g id="r6"><circle cx="742" cy="306" r="7" fill="#880000"/></g>
<g id="r7"><circle cx="775" cy="311" r="7" fill="#ffcc00"/></g>
<g id="veterans-affairs"><circle cx="676" cy="318" r="7" fill="#ffcc00"/>
<text class="t" x="741" y="332" fill="#ffcc22">Veteran'sAffairs</text>
<line class="ld" x1="685" y1="321" x2="700" y2="325" stroke="#ffcc22"/></g>
<g id="armed-services"><circle cx="679" cy="341" r="7" fill="#ffcc00"/>
<text class="t" x="701" y="388" fill="#ffcc22">Armed</text><text class="t" x="702" y="399" fill="#ffcc22">Services</text>
<line class="ld" x1="686" y1="348" x2="690" y2="377" stroke="#ffcc22"/></g>
<g id="r10"><circle cx="696" cy="342" r="7" fill="#bbee44"/></g>
<g id="r11"><circle cx="784" cy="348" r="7" fill="#ff8800"/></g>
<g id="r12"><circle cx="671" cy="355" r="7" fill="#ff8800"/></g>
<g id="r13"><circle cx="716" cy="358" r="7" fill="#ffff00"/></g>
<g id="r14"><circle cx="683" cy="368" r="7" fill="#ffcc00"/></g>
<g id="r15"><circle cx="701" cy="369" r="7" fill="#ff9900"/></g>
<g id="r16"><circle cx="759" cy="369" r="7" fill="#ffbb00"/></g>

<g id="p1"><circle cx="456" cy="440" r="7" fill="#ffee00"/></g>
<g id="p2"><circle cx="485" cy="443" r="7" fill="#aaee55"/></g>
<g id="p3"><circle cx="451" cy="459" r="7" fill="#ff6600"/></g>
<g id="p4"><circle cx="477" cy="466" r="7" fill="#dd0000"/></g>
<g id="appropriations"><circle cx="503" cy="468" r="7" fill="#ff6600"/>
<text class="t" x="542" y="450" fill="#dd1122">Appropriations</text>
<line class="ld" x1="507" y1="451" x2="504" y2="460" stroke="#dd1122"/></g>
<g id="p6"><circle cx="523" cy="472" r="7" fill="#dd0000"/></g>
<g id="p7"><circle cx="414" cy="481" r="7" fill="#ff9900"/></g>
<g id="p8"><circle cx="458" cy="485" r="7" fill="#ffee00"/></g>
<g id="p9"><circle cx="528" cy="496" r="7" fill="#ffbb00"/></g>
<g id="p10"><circle cx="472" cy="502" r="7" fill="#ff9900"/></g>
<g id="p11"><circle cx="489" cy="512" r="7" fill="#dd0000"/></g>
<g id="p12"><circle cx="509" cy="516" r="7" fill="#ff5500"/></g>
<g id="p13"><circle cx="533" cy="515" r="7" fill="#ffbb00"/></g>
<g id="p14"><circle cx="508" cy="552" r="7" fill="#ff4400"/></g>

<g id="intelligence"><circle cx="639" cy="446" r="7" fill="#44ffbb"/>
<text class="t" x="587" y="417" fill="#22cccc">Permanent Select Committee</text><text class="t" x="586" y="428" fill="#22cccc">on Intelligence</text>
<line class="ld" x1="596" y1="429" x2="633" y2="443" stroke="#22cccc"/></g>
<g id="i2"><circle cx="695" cy="450" r="7" fill="#00eeff"/></g>
<g id="i3"><circle cx="614" cy="465" r="7" fill="#00ccff"/></g>
<g id="i4"><circle cx="681" cy="482" r="7" fill="#88ff66"/></g>
<g id="i5"><circle cx="643" cy="498" r="7" fill="#44ffcc"/></g>

<g id="ways-and-means"><circle cx="703" cy="493" r="7" fill="#ff4400"/>
<text class="t" x="758" y="472" fill="#bb1122">Ways and Means</text>
<line class="ld" x1="720" y1="474" x2="708" y2="486" stroke="#bb1122"/></g>
<g id="m2"><circle cx="752" cy="494" r="7" fill="#ff7700"/></g>
<g id="m3"><circle cx="768" cy="514" r="7" fill="#ff7700"/></g>
<g id="m4"><circle cx="683" cy="522" r="7" fill="#ffaa00"/></g>
<g id="m5"><circle cx="735" cy="523" r="7" fill="#ff2200"/></g>
<g id="m6"><circle cx="712" cy="541" r="7" fill="#cc0000"/></g>
<g id="m7"><circle cx="677" cy="545" r="7" fill="#ff8800"/></g>
</g>
</svg>
